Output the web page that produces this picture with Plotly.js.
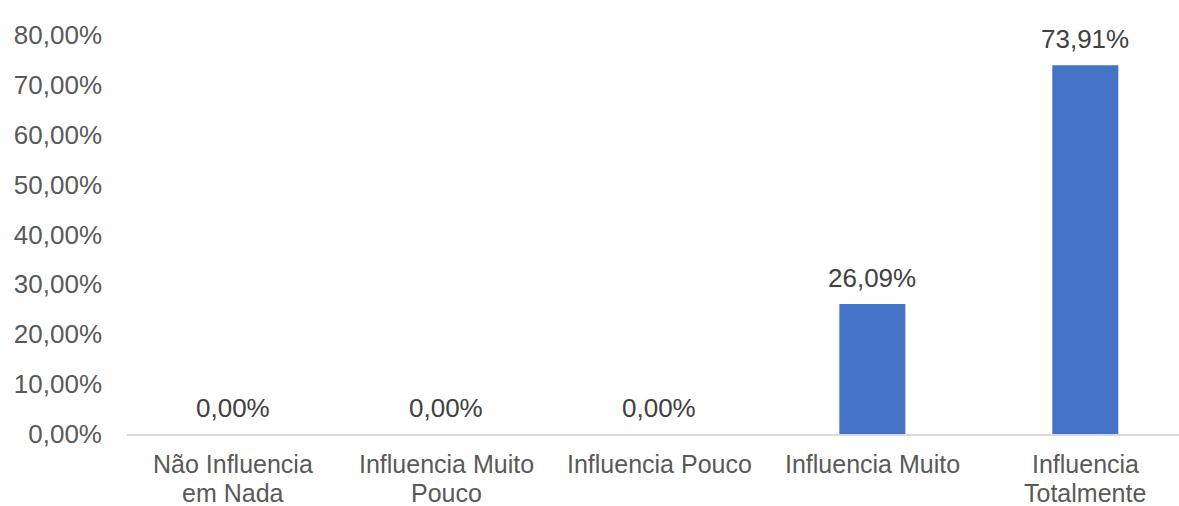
<!DOCTYPE html>
<html>
<head>
<meta charset="utf-8">
<script src="https://cdn.plot.ly/plotly-3.0.1.min.js"></script>
<style>html,body{margin:0;padding:0;background:#fff;}#chart{width:1179px;height:506px;}</style>
</head>
<body>
<div id="chart"></div>
<script>
const categories = ["Não Influencia<br>em Nada", "Influencia Muito<br>Pouco", "Influencia Pouco", "Influencia Muito", "Influencia<br>Totalmente"];
const values = [0, 0, 0, 26.09, 73.91];
const tickValues = [0, 10, 20, 30, 40, 50, 60, 70, 80];
const tickLabels = ["0,00%", "10,00%", "20,00%", "30,00%", "40,00%", "50,00%", "60,00%", "70,00%", "80,00%"];

const fontFamily = "Liberation Sans, Arial, sans-serif";
const fontSize = 26;
const catFontSize = 25;
const xs = categories.map((c, i) => i);
const fmt = v => v.toFixed(2).replace(".", ",") + "%";

const trace = {
  type: "bar",
  x: xs,
  y: values,
  width: 0.31,
  marker: {color: "#4472C4"},
  hoverinfo: "skip"
};
const annotations = values.map((v, i) => ({
  x: xs[i], y: v, xref: "x", yref: "y",
  text: fmt(v), showarrow: false,
  yanchor: "bottom", yshift: 9,
  font: {family: fontFamily, size: fontSize, color: "#404040"}
}));
// category labels, one annotation per line for tighter line spacing
categories.forEach((c, i) => {
  c.split("<br>").forEach((line, j) => {
    annotations.push({
      x: xs[i], y: 0, xref: "x", yref: "paper",
      text: line, showarrow: false, borderpad: 0,
      yanchor: "middle", yshift: -30 - 28.5 * j,
      font: {family: fontFamily, size: catFontSize, color: "#595959"}
    });
  });
});
const layout = {
  width: 1179, height: 506,
  margin: {l: 127, r: 0, t: 35, b: 72},
  paper_bgcolor: "#fff", plot_bgcolor: "#fff",
  showlegend: false,
  font: {family: fontFamily, size: fontSize, color: "#595959"},
  annotations: annotations,
  xaxis: {
    range: [-0.5, 4.44],
    tickmode: "array",
    tickvals: xs,
    showticklabels: false,
    showline: true, linecolor: "#d9d9d9", linewidth: 1.5,
    showgrid: false, zeroline: false, ticks: ""
  },
  yaxis: {
    range: [0, 80],
    tickmode: "array",
    tickvals: tickValues,
    ticktext: tickLabels,
    showline: false, showgrid: false, zeroline: false, ticks: "",
    ticklabelstandoff: 24,
    tickfont: {family: fontFamily, size: fontSize, color: "#595959"}
  }
};
Plotly.newPlot("chart", [trace], layout, {displayModeBar: false, staticPlot: true});
</script>
</body>
</html>
